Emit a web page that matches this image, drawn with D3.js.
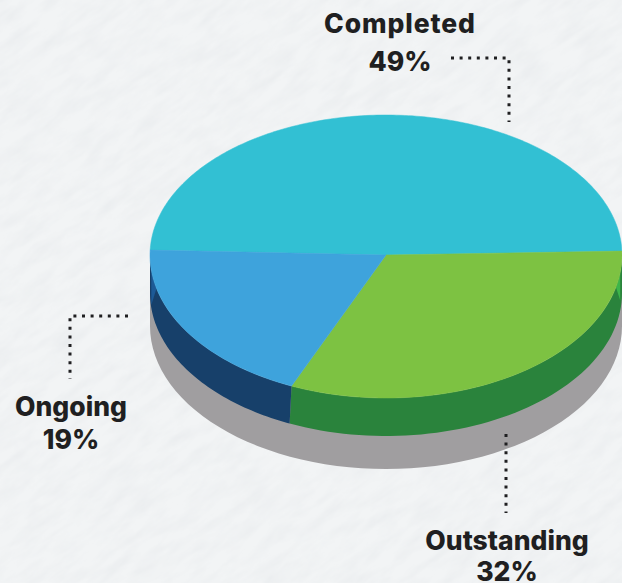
<!DOCTYPE html>
<html>
<head>
<meta charset="utf-8">
<script src="https://cdn.jsdelivr.net/npm/d3@7"></script>
<style>
  html, body { margin: 0; padding: 0; background: #eff2f4; }
  svg { display: block; }
  text { font-family: Inter, "Liberation Sans", sans-serif; font-weight: 800; fill: #1f1f21; }
</style>
</head>
<body>
<div id="chart"></div>
<script>
var width = 622,
height = 583,
cx = 386,
cy = 255,
rx = 236,
ryTop = 140,
ryBottom = 143,
wallDepth = 38,
shadowDepth = 71;

var categories = ['Completed', 'Outstanding', 'Ongoing'];
var shares = [49, 32, 19];
var topColors = ['#32c0d3', '#7dc242', '#3ea3dc'];
var wallColors = ['#1c6f8a', '#2a833c', '#17406a'];

var deg = Math.PI / 180;
var startAngle = -88 * deg;

var svg = d3.select('#chart').
append('svg').
attr('width', width).
attr('height', height);

// paper texture, wrinkles run diagonally
var defs = svg.append('defs');
var paper = defs.append('filter').
attr('id', 'paper').
attr('x', 0).attr('y', 0).attr('width', '100%').attr('height', '100%');
paper.append('feTurbulence').
attr('type', 'fractalNoise').
attr('baseFrequency', '0.03 0.09').
attr('numOctaves', 5).
attr('seed', 11);
paper.append('feColorMatrix').
attr('values', '0 0 0 0 0.62  0 0 0 0 0.65  0 0 0 0 0.69  0.24 0.24 0 0 -0.19');
paper.append('feComposite').
attr('in2', 'SourceGraphic').
attr('operator', 'in');

svg.append('rect').
attr('width', width).
attr('height', height).
attr('fill', '#f2f4f5');
svg.append('g').
attr('transform', 'rotate(-35 ' + width / 2 + ' ' + height / 2 + ')').
append('rect').
attr('x', -300).attr('y', -300).
attr('width', width + 600).
attr('height', height + 600).
attr('fill', '#fff').
attr('filter', 'url(#paper)');

var pie = d3.pie().
sort(null).
startAngle(startAngle).
endAngle(startAngle + 2 * Math.PI);

var slices = pie(shares);
var divider = slices[1].endAngle;
var skew = 0.5 * deg;

// rim point of the top face for a d3 angle (0 = up, clockwise)
function rim(a) {
  var c = Math.cos(a);
  return [cx + rx * Math.sin(a), cy - c * (c > 0 ? ryTop : ryBottom)];
}

function wallPath(a0, a1, depth) {
  var from = Math.max(a0, 90 * deg),
  to = Math.min(a1, 270 * deg);
  if (to <= from) return null;
  var angles = d3.range(0, 61).map(i => from + (to - from) * i / 60);
  var upper = angles.map(rim);
  // the seam between the two front walls leans a little at its foot
  var lower = angles.slice().reverse().map(a => {
    var p = rim(a === divider ? a + skew : a);
    return [p[0], p[1] + depth];
  });
  return d3.line()(upper.concat(lower)) + 'Z';
}

// shadow under the whole pie
svg.append('path').
attr('d', wallPath(90 * deg, 270 * deg, shadowDepth)).
attr('fill', '#a09ea0');

svg.selectAll('path.wall').
data(slices).
enter().
append('path').
attr('class', 'wall').
attr('d', d => wallPath(d.startAngle, d.endAngle, wallDepth)).
attr('fill', (d, i) => wallColors[i]);

// small lighter slivers at both ends of the wall
function sliverPath(a0, a1, depth) {
  var pts = d3.range(0, 13).map(i => rim(a0 + (a1 - a0) * i / 12));
  var tip = rim(a0);
  pts.push([tip[0], tip[1] + depth]);
  return d3.line()(pts) + 'Z';
}

svg.append('path').
attr('d', sliverPath(264 * deg, 256.5 * deg, 35)).
attr('fill', '#1d5a96');
svg.append('path').
attr('d', sliverPath(97 * deg, 103 * deg, 28)).
attr('fill', '#3cb54a');

function facePath(d) {
  var n = Math.ceil((d.endAngle - d.startAngle) * 60);
  var pts = d3.range(0, n + 1).map(i => rim(d.startAngle + (d.endAngle - d.startAngle) * i / n));
  return d3.line()([[cx, cy]].concat(pts)) + 'Z';
}

svg.selectAll('path.face').
data(slices).
enter().
append('path').
attr('class', 'face').
attr('d', facePath).
attr('fill', (d, i) => topColors[i]).
attr('stroke', (d, i) => topColors[i]).
attr('stroke-width', 0.5);

// leader lines
var leaders = [
  [[451, 58], [509, 58], [509, 122]],
  [[128, 316], [70, 316], [70, 379]],
  [[506, 434], [506, 513]]
];

svg.selectAll('path.leader').
data(leaders).
enter().
append('path').
attr('class', 'leader').
attr('d', d3.line()).
attr('fill', 'none').
attr('stroke', '#1f1f21').
attr('stroke-width', 3).
attr('stroke-dasharray', '3 5.6');

// labels
var labelAnchors = [[400, 33, 71], [507, 550, 581], [71, 416, 449]];
var labelSpacing = [0.9, 0, 0];

categories.forEach((c, i) => {
  svg.append('text').
  attr('x', labelAnchors[i][0]).
  attr('y', labelAnchors[i][1]).
  attr('text-anchor', 'middle').
  attr('font-size', 26.5).
  attr('letter-spacing', labelSpacing[i]).
  text(c);
  svg.append('text').
  attr('x', labelAnchors[i][0]).
  attr('y', labelAnchors[i][2]).
  attr('text-anchor', 'middle').
  attr('font-size', 26.5).
  text(shares[i] + '%');
});
</script>
</body>
</html>
